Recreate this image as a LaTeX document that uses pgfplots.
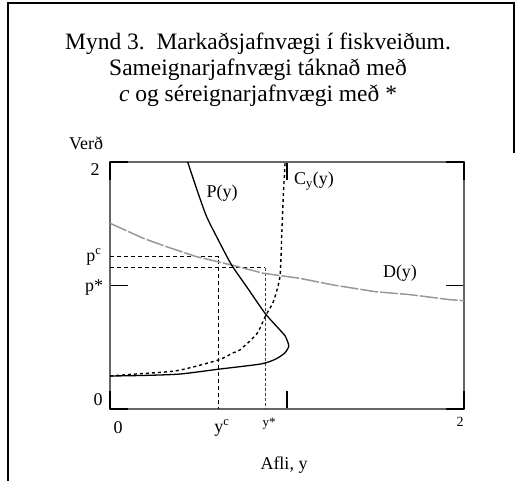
\documentclass[border=0pt]{standalone}
\usepackage{pgfplots}
\pgfplotsset{compat=1.18}
\usepackage{fontspec}
\setmainfont{Liberation Serif}

% demand curve D(y)
\pgfplotstableread{
x y
0     1.504
0.188 1.382
0.32  1.314
0.49  1.233
0.687 1.166
0.866 1.099
1.073 1.058
1.262 1.004
1.497 0.950
1.695 0.926
1.921 0.885
2     0.877
}\demand

% supply curve P(y), backward bending
\pgfplotstableread{
x y
0     0.267
0.2   0.272
0.395 0.283
0.612 0.322
0.85  0.364
0.93  0.400
0.985 0.450
1.01  0.510
0.99  0.590
0.96  0.640
0.876 0.775
0.772 0.990
0.687 1.166
0.615 1.360
0.546 1.557
0.49  1.780
0.439 2.0
}\supply

% marginal cost C_y(y)
\pgfplotstableread{
x y
0     0.267
0.122 0.281
0.377 0.310
0.612 0.397
0.697 0.456
0.734 0.478
0.83  0.610
0.881 0.761
0.923 0.869
0.96  1.071
0.97  1.395
0.979 1.719
0.989 1.990
}\margcost

\begin{document}
\begin{tikzpicture}[x=1pt,y=1pt]
\useasboundingbox (0,0) rectangle (517,481);
\fill[white] (0,0) rectangle (517,481);
% page frame
\draw[line width=1.6pt] (8,-5) -- (8,478) -- (514,478) -- (514,328);

\node[align=center, font=\fontsize{23.5}{26}\selectfont] at (258,411)
  {Mynd 3.\ \ Markaðsjafnvægi í fiskveiðum.\\
   Sameignarjafnvægi táknað með\\
   \textit{c} og séreignarjafnvægi með *};

\begin{axis}[
  at={(110pt,72pt)}, anchor=south west,
  width=354pt, height=247pt, scale only axis,
  xmin=0, xmax=2, ymin=0, ymax=2,
  axis line style={black!60, line width=1.3pt},
  xtick={1}, ytick={1},
  xticklabels={}, yticklabels={},
  tick style={black, line width=1.3pt},
  major tick length=18pt, tick align=inside,
  clip=false,
]
  % equilibrium guide lines
  \addplot[black, line width=0.9pt, dash pattern=on 4pt off 3pt]
    coordinates {(0,1.233) (0.612,1.233) (0.612,0)};
  \addplot[black, line width=0.9pt, dash pattern=on 4pt off 3pt]
    coordinates {(0,1.144) (0.876,1.144)};
  \addplot[black!75, line width=0.9pt, dash pattern=on 3pt off 2pt]
    coordinates {(0.876,1.144) (0.876,0)};

  \addplot[black!40, line width=1.5pt, dash pattern=on 18pt off 2pt] table {\demand};
  \addplot[black, line width=1.3pt, smooth, tension=0.4] table {\supply};
  \addplot[black, line width=1.4pt, dash pattern=on 3pt off 3pt, smooth, tension=0.4] table {\margcost};

  % corner ticks of the frame
  \draw[black, line width=1.5pt] (axis cs:0,0) -- ++(0,18pt) (axis cs:0,0) -- ++(18pt,0);
  \draw[black, line width=1.5pt] (axis cs:2,0) -- ++(0,18pt) (axis cs:2,0) -- ++(-18pt,0);
  \draw[black, line width=1.5pt] (axis cs:0,2) -- ++(0,-18pt) (axis cs:0,2) -- ++(18pt,0);
  \draw[black, line width=1.5pt] (axis cs:2,2) -- ++(0,-18pt) (axis cs:2,2) -- ++(-18pt,0);
\end{axis}

% axis and curve labels
\begin{scope}[every node/.style={inner sep=0pt}]
\node[font=\fontsize{18}{20}\selectfont] at (86,338) {Verð};
\node[font=\fontsize{18}{20}\selectfont] at (95,311) {2};
\node[font=\fontsize{18}{20}\selectfont] at (98,81) {0};
\node[font=\fontsize{18}{20}\selectfont] at (94,224) {p\textsuperscript{c}};
\node[font=\fontsize{18}{20}\selectfont] at (94,193) {p*};
\node[font=\fontsize{18}{20}\selectfont] at (118,53.5) {0};
\node[font=\fontsize{18}{20}\selectfont] at (222,53) {y\textsuperscript{c}};
\node[font=\fontsize{13}{15}\selectfont] at (269,57) {y*};
\node[font=\fontsize{14}{16}\selectfont] at (460,59) {2};
\node[font=\fontsize{18}{20}\selectfont] at (284,16) {Afli, y};
\node[font=\fontsize{18}{20}\selectfont] at (222,288) {P(y)};
\node[font=\fontsize{18}{20}\selectfont] at (314,300) {C\textsubscript{y}(y)};
\node[font=\fontsize{18}{20}\selectfont] at (400,208) {D(y)};
\end{scope}
\end{tikzpicture}
\end{document}
